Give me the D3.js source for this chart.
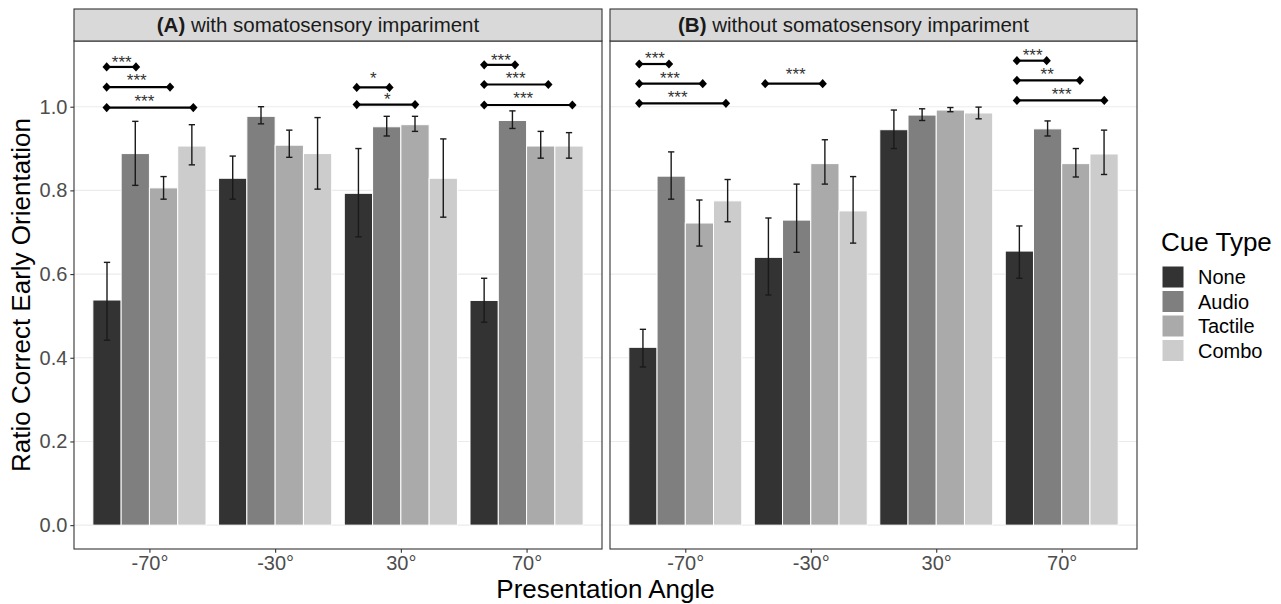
<!DOCTYPE html>
<html><head><meta charset="utf-8">
<script src="https://cdn.jsdelivr.net/npm/d3@7"></script>
<style>
body{margin:0;background:#fff;}
svg{display:block;font-family:"Liberation Sans",Arial,sans-serif;}
</style></head>
<body><svg id="c" width="1281" height="604"></svg>
<script>
// ---- data ----
const angles = ["-70°", "-30°", "30°", "70°"];
const cueTypes = ["None", "Audio", "Tactile", "Combo"];
const cueColors = ["#333333", "#7F7F7F", "#AAAAAA", "#CCCCCC"];
const yTicks = [0, 0.2, 0.4, 0.6, 0.8, 1.0];
const panelIds = ["A", "B"];
const panelTitles = ["with somatosensory impariment", "without somatosensory impariment"];

// rows = cue type (None, Audio, Tactile, Combo), columns = angle
const withMean = [
  [0.538, 0.829, 0.793, 0.537],
  [0.888, 0.977, 0.952, 0.967],
  [0.806, 0.908, 0.957, 0.906],
  [0.906, 0.888, 0.829, 0.906]];
const withLo = [
  [0.442, 0.779, 0.689, 0.485],
  [0.812, 0.959, 0.930, 0.948],
  [0.779, 0.879, 0.941, 0.877],
  [0.861, 0.803, 0.736, 0.877]];
const withHi = [
  [0.628, 0.882, 0.900, 0.590],
  [0.965, 1.000, 0.977, 0.990],
  [0.833, 0.944, 0.977, 0.941],
  [0.957, 0.974, 0.923, 0.938]];
const withoutMean = [
  [0.425, 0.640, 0.945, 0.655],
  [0.834, 0.729, 0.980, 0.947],
  [0.722, 0.864, 0.992, 0.864],
  [0.775, 0.751, 0.985, 0.887]];
const withoutLo = [
  [0.378, 0.550, 0.900, 0.590],
  [0.779, 0.652, 0.967, 0.930],
  [0.667, 0.815, 0.988, 0.832],
  [0.725, 0.674, 0.971, 0.838]];
const withoutHi = [
  [0.468, 0.734, 0.992, 0.715],
  [0.892, 0.815, 0.995, 0.966],
  [0.777, 0.921, 0.998, 0.900],
  [0.826, 0.833, 0.999, 0.944]];

// significance brackets: panel, angle, from offset, to offset (category units), y, label, label x offset, label y
const brackets = [
  ["A", "-70°", -0.340, -0.107, 1.095, "***", -0.220, 1.116],
  ["A", "-70°", -0.340,  0.164, 1.047, "***", -0.101, 1.071],
  ["A", "-70°", -0.340,  0.349, 0.998, "***", -0.040, 1.023],
  ["A", "30°",  -0.351, -0.091, 1.046, "*",   -0.219, 1.076],
  ["A", "30°",  -0.351,  0.113, 1.005, "*",   -0.107, 1.027],
  ["A", "70°",  -0.337, -0.092, 1.100, "***", -0.204, 1.121],
  ["A", "70°",  -0.337,  0.173, 1.053, "***", -0.087, 1.077],
  ["A", "70°",  -0.337,  0.364, 1.004, "***", -0.026, 1.029],
  ["B", "-70°", -0.367, -0.130, 1.102, "***", -0.241, 1.124],
  ["B", "-70°", -0.367,  0.139, 1.055, "***", -0.122, 1.078],
  ["B", "-70°", -0.367,  0.324, 1.008, "***", -0.061, 1.032],
  ["B", "-30°", -0.363,  0.095, 1.055, "***", -0.120, 1.087],
  ["B", "70°",  -0.357, -0.120, 1.110, "***", -0.232, 1.131],
  ["B", "70°",  -0.357,  0.145, 1.063, "**",  -0.116, 1.086],
  ["B", "70°",  -0.357,  0.339, 1.015, "***", -0.001, 1.039]];

// ---- layout ----
const svg = d3.select("#c");
const panelX = [[74, 602], [610, 1137]];
const panelTop = 41, panelBottom = 549, stripTop = 9;
const tickFont = "20px", stripFont = "20.5px", titleFont = "26px", legendFont = "20px";
const stripShift = -20;

const y = d3.scaleLinear().domain([-0.057, 1.157]).range([panelBottom, panelTop]);

const panelData = [
  {mean: withMean, lo: withLo, hi: withHi},
  {mean: withoutMean, lo: withoutLo, hi: withoutHi}];

panelIds.forEach((pid, pi) => {
  const [x0, x1] = panelX[pi];
  const x = d3.scalePoint().domain(angles).range([x0, x1]).padding(0.6);
  const step = x.step();
  const dodge = d3.scaleBand().domain(cueTypes).range([-0.45 * step, 0.45 * step]).padding(0);
  const g = svg.append("g");

  // gridlines
  g.selectAll("line.grid").data(yTicks).join("line")
    .attr("x1", x0).attr("x2", x1)
    .attr("y1", d => y(d)).attr("y2", d => y(d))
    .attr("stroke", "#ebebeb").attr("stroke-width", 1.1);

  // bars
  const pd = panelData[pi];
  const rows = [];
  cueTypes.forEach((c, ci) => angles.forEach((a, ai) => {
    rows.push({cue: c, ci, angle: a, mean: pd.mean[ci][ai], lo: pd.lo[ci][ai], hi: pd.hi[ci][ai]});
  }));
  g.selectAll("rect.bar").data(rows).join("rect")
    .attr("x", d => x(d.angle) + dodge(d.cue))
    .attr("width", dodge.bandwidth())
    .attr("y", d => y(d.mean))
    .attr("height", d => y(0) - y(d.mean))
    .attr("fill", d => cueColors[d.ci])
    .attr("stroke", "#fff").attr("stroke-width", 1);

  // error bars
  const cap = 0.025 * step;
  const eb = g.selectAll("g.eb").data(rows).join("g")
    .attr("stroke", "#1a1a1a").attr("stroke-width", 1.4);
  const cx = d => x(d.angle) + dodge(d.cue) + dodge.bandwidth() / 2;
  eb.append("line").attr("x1", cx).attr("x2", cx).attr("y1", d => y(d.lo)).attr("y2", d => y(d.hi));
  eb.append("line").attr("x1", d => cx(d) - cap).attr("x2", d => cx(d) + cap).attr("y1", d => y(d.lo)).attr("y2", d => y(d.lo));
  eb.append("line").attr("x1", d => cx(d) - cap).attr("x2", d => cx(d) + cap).attr("y1", d => y(d.hi)).attr("y2", d => y(d.hi));

  // brackets
  const br = brackets.filter(b => b[0] === pid);
  const bg = g.selectAll("g.br").data(br).join("g");
  bg.append("line")
    .attr("x1", b => x(b[1]) + b[2] * step).attr("x2", b => x(b[1]) + b[3] * step)
    .attr("y1", b => y(b[4])).attr("y2", b => y(b[4]))
    .attr("stroke", "#000").attr("stroke-width", 2.2);
  const diamond = (cxp, cyp) => `M${cxp},${cyp - 4.6}L${cxp + 4.2},${cyp}L${cxp},${cyp + 4.6}L${cxp - 4.2},${cyp}Z`;
  bg.append("path").attr("d", b => diamond(x(b[1]) + b[2] * step, y(b[4]))).attr("fill", "#000");
  bg.append("path").attr("d", b => diamond(x(b[1]) + b[3] * step, y(b[4]))).attr("fill", "#000");
  bg.append("text")
    .attr("x", b => x(b[1]) + b[6] * step).attr("y", b => y(b[7]) + 9.5)
    .attr("text-anchor", "middle").attr("font-size", "17px").attr("fill", "#333")
    .text(b => b[5]);

  // panel border
  g.append("rect").attr("x", x0).attr("y", panelTop).attr("width", x1 - x0).attr("height", panelBottom - panelTop)
    .attr("fill", "none").attr("stroke", "#333").attr("stroke-width", 1.1);

  // strip
  g.append("rect").attr("x", x0).attr("y", stripTop).attr("width", x1 - x0).attr("height", panelTop - stripTop)
    .attr("fill", "#d9d9d9").attr("stroke", "#333").attr("stroke-width", 1.1);
  const st = g.append("text").attr("x", (x0 + x1) / 2 + stripShift).attr("y", (stripTop + panelTop) / 2).attr("dy", "0.35em")
    .attr("text-anchor", "middle").attr("font-size", stripFont).attr("fill", "#1a1a1a");
  st.append("tspan").attr("font-weight", "bold").text(`(${pid})`);
  st.append("tspan").text(" " + panelTitles[pi]);

  // x axis
  const xa = g.append("g").attr("transform", `translate(0,${panelBottom})`)
    .call(d3.axisBottom(x).tickSize(3.67).tickPadding(3));
  xa.select(".domain").remove();
  xa.selectAll(".tick line").attr("stroke", "#333").attr("stroke-width", 1.1);
  xa.selectAll(".tick text").attr("fill", "#4d4d4d").attr("font-size", tickFont).attr("font-family", "Liberation Sans, Arial, sans-serif");

  // y axis (left panel only)
  if (pi === 0) {
    const ya = g.append("g").attr("transform", `translate(${x0},0)`)
      .call(d3.axisLeft(y).tickValues(yTicks).tickFormat(d3.format(".1f")).tickSize(3.67).tickPadding(3));
    ya.select(".domain").remove();
    ya.selectAll(".tick line").attr("stroke", "#333").attr("stroke-width", 1.1);
    ya.selectAll(".tick text").attr("fill", "#4d4d4d").attr("font-size", tickFont).attr("font-family", "Liberation Sans, Arial, sans-serif");
  }
});

// axis titles
svg.append("text").attr("x", (panelX[0][0] + panelX[1][1]) / 2).attr("y", 598)
  .attr("text-anchor", "middle").attr("font-size", titleFont).attr("fill", "#000").text("Presentation Angle");
svg.append("text").attr("transform", `translate(30,${(panelTop + panelBottom) / 2}) rotate(-90)`)
  .attr("text-anchor", "middle").attr("font-size", titleFont).attr("fill", "#000").text("Ratio Correct Early Orientation");

// legend
const lg = svg.append("g").attr("transform", "translate(1162,0)");
lg.append("text").attr("x", -1).attr("y", 251).attr("font-size", titleFont).attr("fill", "#000").text("Cue Type");
const li = lg.selectAll("g.li").data(cueTypes).join("g")
  .attr("transform", (d, i) => `translate(0,${266 + i * 24.5})`);
li.append("rect").attr("width", 22).attr("height", 22).attr("fill", (d, i) => cueColors[i]).attr("stroke", "#fff").attr("stroke-width", 1);
li.append("text").attr("x", 36).attr("y", 11).attr("dy", "0.36em").attr("font-size", legendFont).attr("fill", "#000").text(d => d);
</script>
</body></html>
